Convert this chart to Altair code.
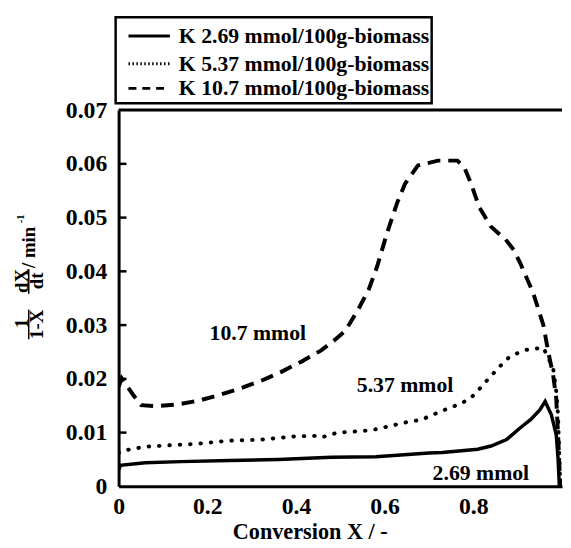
import altair as alt
import pandas as pd

FONT = "Liberation Serif"

# ---- data ----
x_269 = [0.0, 0.004, 0.06, 0.14, 0.25, 0.36, 0.48, 0.58, 0.70, 0.73, 0.81, 0.84, 0.875,
         0.906, 0.929, 0.95, 0.962, 0.976, 0.987, 0.991, 0.994]
y_269 = [0.0030, 0.0039, 0.0044, 0.0046, 0.0048, 0.0050, 0.0054, 0.0055, 0.0062, 0.0063,
         0.0069, 0.0075, 0.0087, 0.0109, 0.0124, 0.0142, 0.0158, 0.0133, 0.0096, 0.0053, 0.0]

x_537 = [0.0, 0.007, 0.062, 0.107, 0.174, 0.249, 0.323, 0.397, 0.445, 0.457, 0.494, 0.55,
         0.579, 0.653, 0.683, 0.728, 0.775, 0.802, 0.824, 0.862, 0.884, 0.92, 0.958, 0.98,
         0.987, 0.991, 0.996]
y_537 = [0.0062, 0.0066, 0.0074, 0.0076, 0.0079, 0.0085, 0.0087, 0.0093, 0.0094, 0.0091,
         0.0100, 0.0103, 0.0106, 0.0120, 0.0124, 0.0140, 0.0155, 0.0170, 0.0191, 0.0225,
         0.0243, 0.0254, 0.0258, 0.0220, 0.0177, 0.0133, 0.0]

x_107 = [0.0, 0.007, 0.033, 0.051, 0.085, 0.138, 0.183, 0.227, 0.274, 0.323, 0.367, 0.412,
         0.457, 0.49, 0.512, 0.541, 0.564, 0.583, 0.606, 0.628, 0.646, 0.675, 0.72, 0.764,
         0.78, 0.795, 0.813, 0.84, 0.873, 0.891, 0.906, 0.935, 0.958, 0.969, 0.98, 0.987,
         0.992, 0.996]
y_107 = [0.0185, 0.0201, 0.0170, 0.0151, 0.0149, 0.0153, 0.0160, 0.0170, 0.0182, 0.0197,
         0.0213, 0.0232, 0.0253, 0.0274, 0.0290, 0.0330, 0.0366, 0.0409, 0.0473, 0.0527,
         0.0563, 0.0597, 0.0606, 0.0606, 0.0593, 0.0563, 0.0520, 0.0483, 0.0459, 0.0440,
         0.0415, 0.0360, 0.0300, 0.0250, 0.0207, 0.0164, 0.0080, 0.0]

legend_labels = ["K 2.69 mmol/100g-biomass", "K 5.37 mmol/100g-biomass",
                 "K 10.7 mmol/100g-biomass"]
annot_labels = ["10.7 mmol", "5.37 mmol", "2.69 mmol"]
annot_x = [0.314, 0.646, 0.817]
annot_y = [0.0285, 0.0188, 0.0024]

x_ticks = [0, 0.2, 0.4, 0.6, 0.8]
y_ticks = [0, 0.01, 0.02, 0.03, 0.04, 0.05, 0.06, 0.07]
y_inner_ticks = [0.01, 0.02, 0.03, 0.04, 0.05, 0.06]
x_title = "Conversion X / -"

# ---- scales / axes ----
xscale = alt.Scale(domain=[0, 1], nice=False, zero=False)
yscale = alt.Scale(domain=[0, 0.07], nice=False, zero=False)

common_axis = dict(title=None, labelFont=FONT, labelFontSize=24, labelFontWeight="bold",
                   labelColor="black", ticks=False, tickSize=0, domainColor="black",
                   domainWidth=3, grid=False, labelFlush=False, format="~g")
X_AXIS = alt.Axis(values=x_ticks, labelPadding=8, **common_axis)
Y_AXIS = alt.Axis(values=y_ticks, labelPadding=12, **common_axis)


def X(field="X"):
    return alt.X(f"{field}:Q", scale=xscale, axis=X_AXIS)


def Y(field="Y"):
    return alt.Y(f"{field}:Q", scale=yscale, axis=Y_AXIS)


def df(xs, ys):
    return pd.DataFrame({"X": xs, "Y": ys, "i": range(len(xs))})


one = pd.DataFrame({"a": [0]})

line_solid = alt.Chart(df(x_269, y_269)).mark_line(
    color="black", strokeWidth=3.5, clip=True).encode(x=X(), y=Y(), order="i:Q")
line_dot = alt.Chart(df(x_537, y_537)).mark_line(
    color="black", strokeWidth=4, strokeDash=[0.5, 10], strokeCap="round", clip=True
).encode(x=X(), y=Y(), order="i:Q")
line_dash = alt.Chart(df(x_107, y_107)).mark_line(
    color="black", strokeWidth=4, strokeDash=[13, 8], clip=True
).encode(x=X(), y=Y(), order="i:Q")

top_rule = alt.Chart(pd.DataFrame({"Y": [0.07]})).mark_rule(
    color="black", strokeWidth=3).encode(y=Y())
inner_ticks = alt.Chart(pd.DataFrame({"Y": y_inner_ticks})).mark_rule(
    color="black", strokeWidth=2.5).encode(y=Y(), x=alt.value(0), x2=alt.value(8))

annots = alt.Chart(pd.DataFrame({"X": annot_x, "Y": annot_y, "t": annot_labels})).mark_text(
    font=FONT, fontSize=22, fontWeight="bold", color="black", align="center",
    baseline="middle").encode(x=X(), y=Y(), text="t:N")

# ---- legend box ----
layers = [line_solid, line_dot, line_dash, top_rule, inner_ticks, annots]
layers.append(alt.Chart(one).mark_rect(fill="white", stroke="black", strokeWidth=2.5).encode(
    x=alt.value(-3), x2=alt.value(317), y=alt.value(-94), y2=alt.value(-7)))
rows = [-75, -47, -22]
styles = [dict(), dict(strokeDash=[1.5, 2.5]), dict(strokeDash=[8, 6])]
for lab, ry, st in zip(legend_labels, rows, styles):
    layers.append(alt.Chart(one).mark_rule(color="black", strokeWidth=3, **st).encode(
        x=alt.value(10), x2=alt.value(52), y=alt.value(ry)))
    layers.append(alt.Chart(one).mark_text(
        text=lab, font=FONT, fontSize=22, fontWeight="bold", color="black",
        align="left", baseline="middle").encode(x=alt.value(61), y=alt.value(ry)))

# ---- y-axis title (fraction form) ----
def vtext(t, x, y, size=19):
    return alt.Chart(one).mark_text(
        text=t, font=FONT, fontSize=size, fontWeight="bold", color="black",
        align="center", baseline="middle", angle=270).encode(x=alt.value(x), y=alt.value(y))

layers += [
    vtext("1", -98, 216),
    vtext("1-X", -83, 217),
    vtext("dX", -98, 173),
    vtext("dt", -83, 173),
    vtext("/ min", -90.5, 139),
    vtext("-1", -98.5, 110, size=11),
    alt.Chart(one).mark_rule(color="black", strokeWidth=1.5).encode(
        x=alt.value(-91), y=alt.value(202), y2=alt.value(232)),
    alt.Chart(one).mark_rule(color="black", strokeWidth=1.5).encode(
        x=alt.value(-91), y=alt.value(161), y2=alt.value(186)),
]

# ---- x-axis title ----
layers.append(alt.Chart(one).mark_text(
    text=x_title, font=FONT, fontSize=22.5, fontWeight="bold", color="black",
    align="center", baseline="middle").encode(x=alt.value(194), y=alt.value(427)))

chart = alt.layer(*layers).properties(
    width=449, height=381,
    padding={"left": 112, "top": 100, "right": 1, "bottom": 56},
    autosize=alt.AutoSizeParams(type="none"),
    background="white",
).configure_view(stroke=None)

chart.save("out.html", embed_options={"renderer": "svg", "actions": False})
